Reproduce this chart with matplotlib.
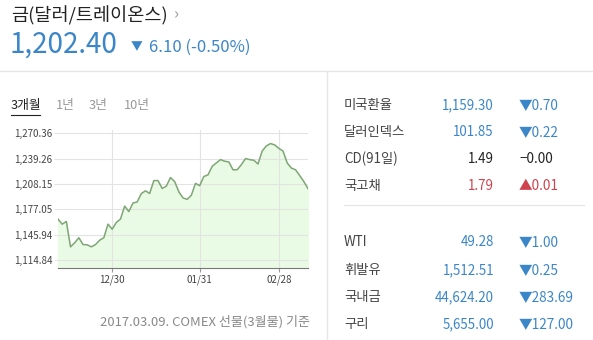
import matplotlib.pyplot as plt
from matplotlib.lines import Line2D

plt.rcParams['font.family'] = ['Noto Sans CJK KR', 'DejaVu Sans']

# gold price, last 3 months (USD / troy ounce)
prices = [1165.0, 1158.7, 1162.0, 1130.8, 1135.8, 1142.0, 1133.6, 1133.3, 1130.8, 1133.6,
          1139.0, 1142.0, 1158.7, 1152.5, 1160.8, 1165.0, 1180.9, 1174.2, 1184.7, 1186.0,
          1196.4, 1199.7, 1196.4, 1212.3, 1212.3, 1202.6, 1205.5, 1216.0, 1211.0, 1198.5,
          1191.0, 1189.2, 1194.2, 1208.9, 1206.0, 1217.3, 1219.3, 1229.8, 1234.0, 1238.1,
          1236.1, 1235.2, 1225.6, 1225.6, 1231.8, 1239.4, 1238.1, 1237.3, 1232.7, 1248.6,
          1254.9, 1257.8, 1256.2, 1251.9, 1248.6, 1234.0, 1227.7, 1225.6, 1218.5, 1211.0,
          1202.4]
yticks = [1114.84, 1145.94, 1177.05, 1208.15, 1239.26, 1270.36]
xtick_idx = [13, 34, 53]
xtick_labels = ['12/30', '01/31', '02/28']

names_top = ['미국환율', '달러인덱스', 'CD(91일)', '국고채']
values_top = ['1,159.30', '101.85', '1.49', '1.79']
changes_top = ['▼0.70', '▼0.22', '−0.00', '▲0.01']
names_bot = ['WTI', '휘발유', '국내금', '구리']
values_bot = ['49.28', '1,512.51', '44,624.20', '5,655.00']
changes_bot = ['▼1.00', '▼0.25', '▼283.69', '▼127.00']

W, H = 593, 340
BLUE = '#3b86c8'
RED = '#d0424e'
fig = plt.figure(figsize=(W / 100, H / 100), dpi=100)


def px(x, y):
    return x / W, 1 - y / H


def text(x, y, s, **kw):
    fig.text(*px(x, y), s, va='center', **kw)


def hline(x0, x1, y, color='#e6e6e6', lw=1):
    fig.add_artist(Line2D([x0 / W, x1 / W], [1 - y / H] * 2, color=color, lw=lw))


# header
text(11, 16, '금(달러/트레이온스)', fontsize=13.4, color='#222222')
text(174, 15, '›', fontsize=12, color='#999999')
text(10, 45, '1,202.40', fontsize=20, color=BLUE)
text(131, 47, '▼', fontsize=8.5, color=BLUE)
text(149, 47, '6.10 (-0.50%)', fontsize=12, color=BLUE)
hline(0, W, 71)
fig.add_artist(Line2D([327 / W] * 2, [0, 1 - 71 / H], color='#e6e6e6', lw=1))

# period tabs
text(11, 106, '3개월', fontsize=9.2, color='#222222')
hline(11, 40, 115, color='#222222', lw=0.8)
for x, s in zip([56, 89, 124], ['1년', '3년', '10년']):
    text(x, 106, s, fontsize=9.2, color='#999999')

# chart
ax = fig.add_axes([58 / W, (H - 268) / H, 250 / W, 138 / H])
xs = list(range(len(prices)))
ax.fill_between(xs, prices, 1100, color='#eafbe5')
ax.plot(xs, prices, color='#80a677', lw=1.1)
ax.set_xlim(0, len(prices) - 1)
ax.set_ylim(1104.8, 1274.5)
ax.set_yticks(yticks)
ax.set_yticklabels(['{:,.2f}'.format(v) for v in yticks])
ax.set_xticks(xtick_idx)
ax.set_xticklabels(xtick_labels)
ax.grid(True, color='#e3e3e3', lw=0.8)
for s in ['top', 'right', 'left']:
    ax.spines[s].set_visible(False)
ax.spines['bottom'].set_color('#777777')
ax.tick_params(axis='y', length=3, color='#e3e3e3', labelsize=7, labelcolor='#444444', pad=1)
ax.tick_params(axis='x', length=3, color='#999999', labelsize=7, labelcolor='#444444', pad=2)

text(310, 322, '2017.03.09. COMEX 선물(3월물) 기준', fontsize=9.4, color='#888888', ha='right')

# right panel
def rows(ys, names, values, changes):
    for y, n, v, c in zip(ys, names, values, changes):
        if c.startswith('▲'):
            vc, cc = RED, RED
        elif c.startswith('▼'):
            vc, cc = BLUE, BLUE
        else:
            vc, cc = '#222222', '#222222'
        text(344, y, n, fontsize=9.6, color='#444444')
        text(494, y, v, fontsize=9.6, color=vc, ha='right')
        text(519, y, c, fontsize=9.8, color=cc)


rows([105, 132, 159, 186], names_top, values_top, changes_top)
hline(344, 584, 205)
rows([242, 270, 297, 324], names_bot, values_bot, changes_bot)

fig.savefig('out.png', dpi=100)
